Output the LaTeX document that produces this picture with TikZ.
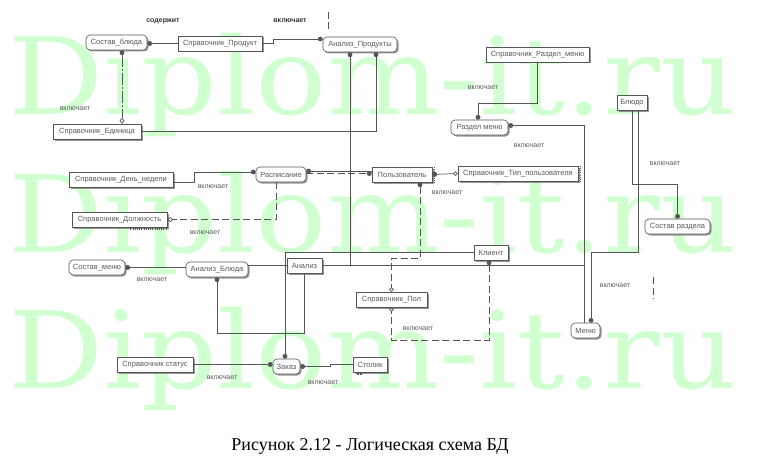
\documentclass[tikz,border=0pt]{standalone}
\usepackage{fontspec}
\setmainfont{Liberation Serif}
\newfontfamily\nodefont{Liberation Sans}
\newfontfamily\wmfont{DejaVu Serif}
\usetikzlibrary{arrows.meta,shadows}
\definecolor{wm}{RGB}{208,255,208}
\definecolor{ln}{RGB}{85,85,85}
\definecolor{tx}{RGB}{90,90,90}
\begin{document}
\begin{tikzpicture}[x=1pt,y=-1pt,
  ent/.style={draw=ln, fill=white, line width=0.6pt, inner sep=0pt,
    font=\nodefont\fontsize{7.5}{8}\selectfont, text=tx,
    drop shadow={shadow xshift=1.5pt, shadow yshift=-1.5pt, fill=black!45, opacity=0.9}},
  rent/.style={ent, rounded corners=4pt},
  lbl/.style={font=\nodefont\fontsize{7}{8}\selectfont, text=tx, inner sep=0pt},
  blbl/.style={font=\nodefont\bfseries\fontsize{7}{8}\selectfont, text=black!80, inner sep=0pt},
  con/.style={draw=ln, line width=0.7pt},
  dsh/.style={con, dash pattern=on 7pt off 3.5pt},
  dsd/.style={con, dash pattern=on 12pt off 2pt on 2pt off 2pt},
  wmtext/.style={font=\wmfont\fontsize{107}{107}\selectfont, text=wm, inner sep=0pt, anchor=base west, xscale=1.11},
  dotE/.style={-{Circle[length=4.8pt]}},
  dotS/.style={{Circle[length=4.8pt]}-},
]
\useasboundingbox (0,0) rectangle (757,460);
% watermark
\node[wmtext] (wm1) at (8,114) {Diplom-it.ru};
\node[wmtext] (wm2) at (8,252) {Diplom-it.ru};
\node[wmtext] (wm3) at (8,388) {Diplom-it.ru};

% entities
\node[rent, minimum width=61pt, minimum height=15pt] (sostb) at (116.5,42.5) {Состав\_блюда};
\node[ent,  minimum width=84pt, minimum height=15pt] (sprprod) at (220,43.5) {Справочник\_Продукт};
\node[rent, minimum width=74pt, minimum height=15pt] (anprod) at (360,44.5) {Анализ\_Продукты};
\node[ent,  minimum width=88pt, minimum height=15pt] (spred) at (97,131.5) {Справочник\_Единица};
\node[ent,  minimum width=103pt, minimum height=15pt] (sprrm) at (537.5,54.5) {Справочник\_Раздел\_меню};
\node[rent, minimum width=57pt, minimum height=15pt] (razm) at (479.5,127.5) {Раздел меню};
\node[ent,  minimum width=30pt, minimum height=15pt] (bludo) at (632,102.5) {Блюдо};
\node[ent,  minimum width=104pt, minimum height=15pt] (sprden) at (121,179.5) {Справочник\_День\_недели};
\node[rent, minimum width=50pt, minimum height=15pt] (rasp) at (281,174.5) {Расписание};
\node[ent,  minimum width=95pt, minimum height=15pt] (sprdol) at (119.5,219.5) {Справочник\_Должность};
\node[ent,  minimum width=60pt, minimum height=15pt] (polz) at (402,174.5) {Пользователь};
\node[ent,  minimum width=120pt, minimum height=15pt] (sprtip) at (518,173.5) {Справочник\_Тип\_пользователя};
\node[rent, minimum width=65pt, minimum height=15pt] (sostr) at (677.5,226.5) {Состав раздела};
\node[ent,  minimum width=34pt, minimum height=15pt] (klient) at (491,252.5) {Клиент};
\node[rent, minimum width=56pt, minimum height=15pt] (sostm) at (97,267.5) {Состав\_меню};
\node[rent, minimum width=62pt, minimum height=15pt] (anbl) at (217,269.5) {Анализ\_Блюда};
\node[ent,  minimum width=35pt, minimum height=15pt] (analiz) at (304.5,265.5) {Анализ};
\node[ent,  minimum width=71pt, minimum height=15pt] (sprpol) at (391.5,299.5) {Справочник\_Пол};
\node[rent, minimum width=29pt, minimum height=15pt] (menu) at (585.5,330.5) {Меню};
\node[ent,  minimum width=76pt, minimum height=15pt] (sprstat) at (155,364.5) {Справочник статус};
\node[rent, minimum width=27pt, minimum height=15pt] (zakaz) at (286.5,366.5) {Заказ};
\node[ent,  minimum width=34pt, minimum height=15pt] (stolik) at (370,364.5) {Столик};

\coordinate (mv) at ([xshift=-1.5pt]menu.north);

% connectors
\draw[con, dotE] (sprprod.west) -- (sprprod.west -| sostb.east);
\draw[con, dotE] (sprprod.east) -- ++(11,0) |- ([yshift=5.5pt]anprod.west);
\draw[dsd, {Circle[length=4.8pt]}-{Diamond[open,length=6pt,width=5pt]}] ([xshift=5.5pt]sostb.south) -- ([xshift=5.5pt]sostb.south |- spred.north);
\draw[con, dotE] (spred.east) -| ([xshift=16pt]anprod.south);
\draw[con, dotS] ([xshift=-10pt]anprod.south) -- ([xshift=-10pt]anprod.south |- analiz.east);
\draw[con] (analiz.east) -- (analiz.east -| mv);
\draw[con, dotS] ([yshift=2pt]razm.east) -| (mv);
\draw[con, dotE] ([xshift=6pt]bludo.south) -- ++(0,142) -| ([xshift=5.5pt]menu.north);
\draw[con, dotE] (bludo.south) -- ++(0,74) -| (sostr.north);
\draw[con, dotE] (sprrm.south) -- ++(0,41) -| ([xshift=-1.5pt]razm.north);
\draw[con, dotE] ([yshift=-3pt]sprden.east) -- ++(21,0) |- ([yshift=2.5pt]rasp.west);
\draw[con, dotS] ([yshift=3.5pt]rasp.east) -- ([yshift=3.5pt]polz.west);
\draw[dsh, dotE] ([yshift=1pt]rasp.east) -- ([yshift=1pt]polz.west);
\draw[dsh, -{Diamond[open,length=6pt,width=5pt]}] ([xshift=-5pt]rasp.south) |- (sprdol.east);
\draw[con, {Circle[length=4.8pt]}-{Circle[open,length=4.5pt]}] (polz.east) -- (sprtip.west);
\draw[dsh, {Circle[length=4.8pt]}-{Circle[open,length=4.5pt]}] ([xshift=18pt]polz.south) -- ++(0,76) -| (sprpol.north);
\draw[dsh, {Circle[length=4.8pt]}-{Circle[open,length=4.5pt]}] ([xshift=-2pt]klient.south) -- ++(0,80) -| (sprpol.south);
\draw[con, dotE] (klient.west) -| ([xshift=-1.5pt]zakaz.north);
\draw[con, dotS] (sostm.east) -- ([yshift=2pt]anbl.west);
\draw[con] ([yshift=4pt]anbl.east) -- (analiz.west);
\draw[con, dotS] (anbl.south) -- ++(0,56) -| (analiz.south);
\draw[con, dotE] (sprstat.east) -- ([yshift=2pt]zakaz.west);
\draw[con, dotS] (zakaz.east) -- ++(30,0) |- (stolik.west);

% small marks
\draw[ln, line width=2pt, dash pattern=on 1pt off 1.2pt] ([xshift=-37pt,yshift=-2pt]sprdol.south east) -- ([yshift=-2pt]sprdol.south east);
\draw[ln, line width=1.2pt, dash pattern=on 1pt off 1.2pt] ([xshift=2pt]sprtip.north east) -- ([xshift=2pt]sprtip.south east);
\draw[ln, line width=1.2pt, dash pattern=on 1pt off 1.2pt] ([xshift=2pt]polz.north east) -- ([xshift=2pt]polz.south east);
\draw[ln, line width=2pt, dash pattern=on 2pt off 1.5pt] ([xshift=4pt,yshift=-2pt]stolik.south west) -- ([xshift=11pt,yshift=-2pt]stolik.south west);
\coordinate (d1a) at (328,12); \coordinate (d1b) at (328,33);
\draw[dsh] (d1a) -- (d1b);
\coordinate (d2a) at (653,277); \coordinate (d2b) at (653,299);
\draw[dsh] (d2a) -- (d2b);

% labels
\node[blbl] (l1) at (163,21) {содержит};
\node[blbl] (l2) at (290,21) {включает};
\node[lbl] (l3) at (75,109) {включает};
\node[lbl] (l4) at (483,88) {включает};
\node[lbl] (l5) at (529,146) {включает};
\node[lbl] (l6) at (665,164) {включает};
\node[lbl] (l7) at (447,193) {включает};
\node[lbl] (l8) at (213,187) {включает};
\node[lbl] (l9) at (205,233) {включает};
\node[lbl] (l10) at (152,280) {включает};
\node[lbl] (l11) at (222,378) {включает};
\node[lbl] (l12) at (323,383) {включает};
\node[lbl] (l13) at (418,329) {включает};
\node[lbl] (l14) at (615,286) {включает};

% caption
\node[font=\fontsize{18}{22}\selectfont, inner sep=0pt] (cap) at (370,446) {Рисунок 2.12 - Логическая схема БД};
\end{tikzpicture}
\end{document}
